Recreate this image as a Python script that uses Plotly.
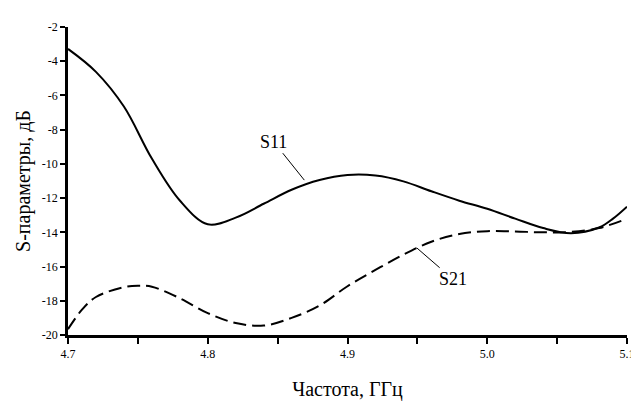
import plotly.graph_objects as go

freq_s11 = [4.70, 4.72, 4.74, 4.76, 4.78, 4.80, 4.82, 4.84, 4.86, 4.88, 4.90,
            4.92, 4.94, 4.96, 4.98, 5.00, 5.02, 5.04, 5.06, 5.08, 5.09, 5.10]
s11 = [-3.28, -4.62, -6.65, -9.69, -12.14, -13.53, -13.14, -12.33, -11.51, -10.94, -10.65,
       -10.68, -11.02, -11.60, -12.15, -12.62, -13.20, -13.75, -14.05, -13.72, -13.20, -12.50]

freq_s21 = [4.70, 4.71, 4.72, 4.74, 4.75, 4.76, 4.78, 4.80, 4.82, 4.84, 4.86, 4.88,
            4.90, 4.92, 4.94, 4.96, 4.98, 5.00, 5.02, 5.04, 5.06, 5.08, 5.10]
s21 = [-19.66, -18.52, -17.78, -17.20, -17.12, -17.18, -17.85, -18.72, -19.30, -19.45,
       -19.00, -18.28, -17.15, -16.20, -15.30, -14.55, -14.10, -13.93, -13.95, -14.00,
       -13.97, -13.75, -13.20]

y_ticks = [-2, -4, -6, -8, -10, -12, -14, -16, -18, -20]
x_ticks = [4.7, 4.8, 4.9, 5.0, 5.1]
x_tick_labels = ["4.7", "4.8", "4.9", "5.0", "5.1"]

font_family = "'Liberation Serif', 'Times New Roman', serif"

fig = go.Figure()
fig.add_trace(go.Scatter(x=freq_s11, y=s11, mode="lines", name="S11",
                         line=dict(color="black", width=2, shape="spline", smoothing=1.0)))
fig.add_trace(go.Scatter(x=freq_s21, y=s21, mode="lines", name="S21",
                         line=dict(color="black", width=2, shape="spline", smoothing=1.0,
                                   dash="13px,6px")))

fig.add_annotation(x=4.870, y=-11.04, text="S11", showarrow=True, arrowhead=0,
                   arrowwidth=1, arrowcolor="black", ax=-32, ay=-40, standoff=2,
                   font=dict(family=font_family, size=18, color="black"))
fig.add_annotation(x=4.949, y=-14.87, text="S21", showarrow=True, arrowhead=0,
                   arrowwidth=1, arrowcolor="black", ax=37, ay=32, standoff=1,
                   font=dict(family=font_family, size=18, color="black"))

fig.update_layout(
    width=639, height=401,
    margin=dict(l=60, r=12, t=16, b=65),
    paper_bgcolor="white", plot_bgcolor="white",
    showlegend=False,
    font=dict(family=font_family, color="black"),
)
fig.update_xaxes(
    range=[4.7, 5.1], tickvals=x_ticks, ticktext=x_tick_labels,
    ticks="outside", ticklen=6, tickwidth=1.5, tickcolor="black",
    showline=True, linecolor="black", linewidth=2.5, showgrid=False, zeroline=False,
    tickfont=dict(family=font_family, size=12), ticklabeloverflow="allow",
    minor=dict(dtick=0.05, tick0=4.7, ticks="outside", ticklen=6, tickwidth=1.5,
               tickcolor="black", showgrid=False),
    title=dict(text="Частота, ГГц", font=dict(family=font_family, size=20), standoff=22),
)
fig.update_yaxes(
    range=[-20, -2], tickvals=y_ticks, ticktext=[str(v) for v in y_ticks],
    ticks="outside", ticklen=5, tickwidth=1.5, tickcolor="black",
    showline=True, linecolor="black", linewidth=2.5, showgrid=False, zeroline=False,
    tickfont=dict(family=font_family, size=12),
    title=dict(text="S-параметры, дБ", font=dict(family=font_family, size=20), standoff=6),
)

fig.write_html("out.html")
